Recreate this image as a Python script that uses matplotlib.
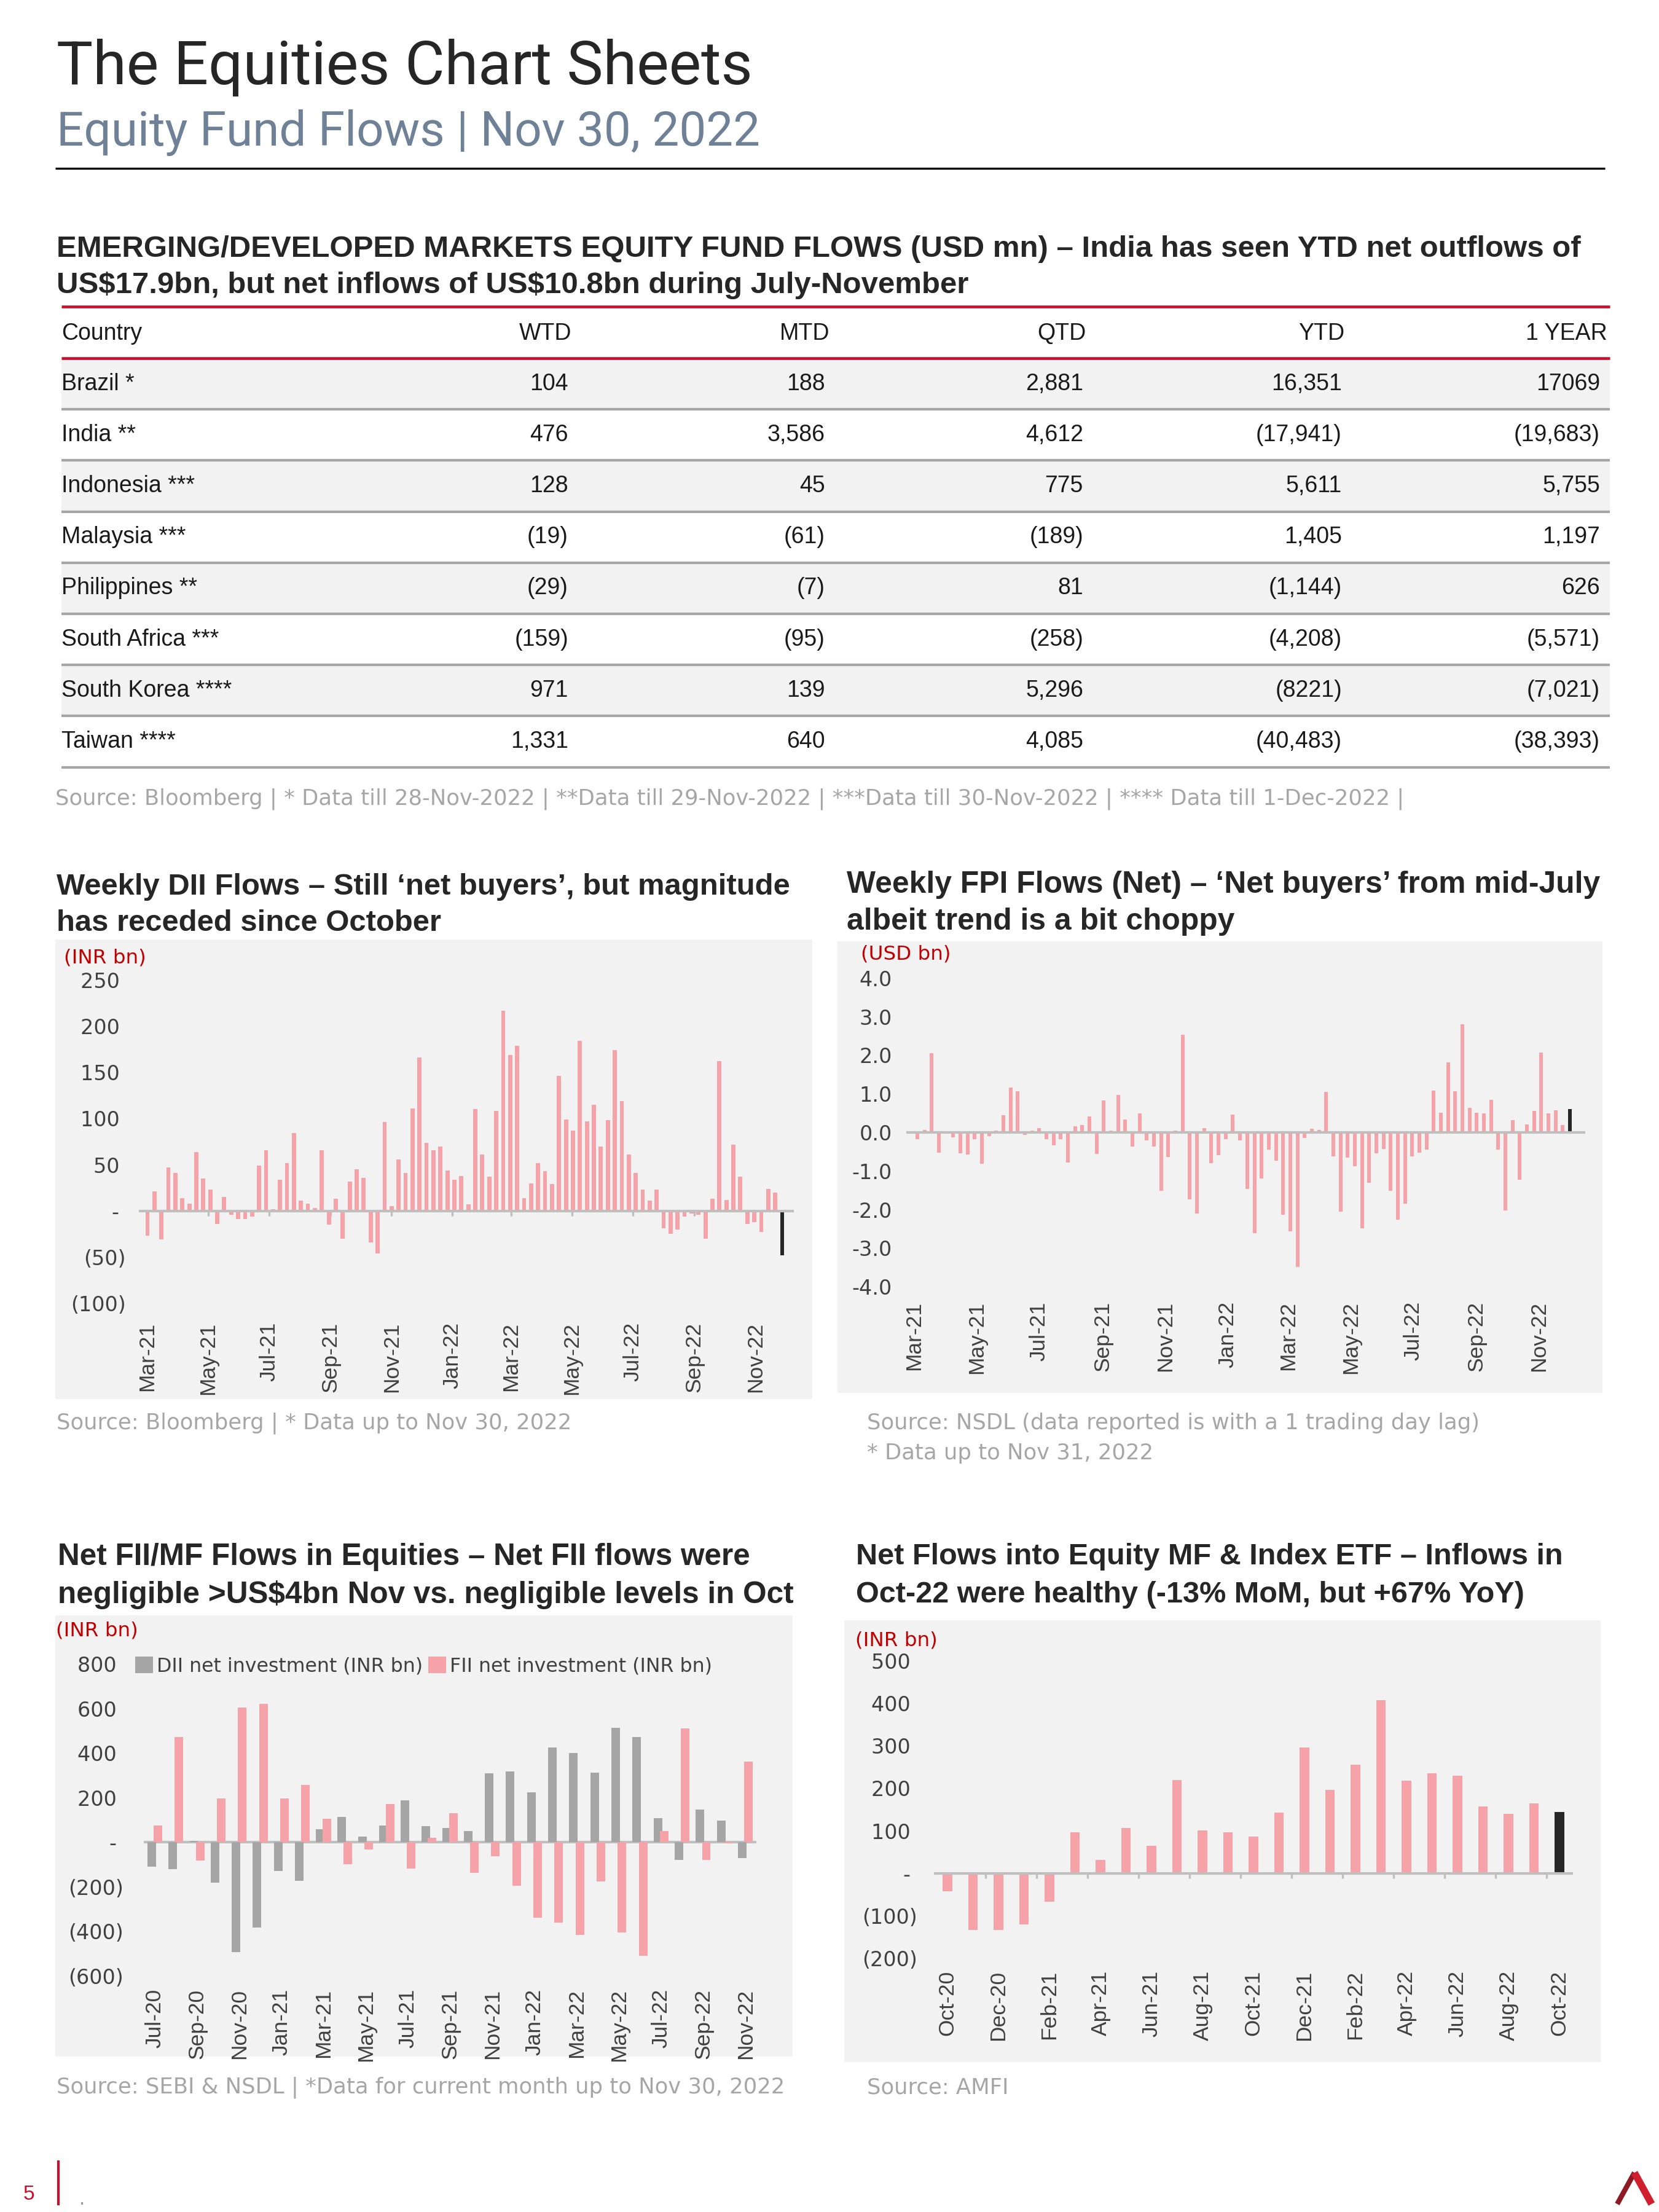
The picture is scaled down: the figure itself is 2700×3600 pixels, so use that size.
import matplotlib
matplotlib.use("Agg")
import matplotlib.pyplot as plt
import matplotlib.dates as mdates
import pandas as pd
from matplotlib.patches import Rectangle
from matplotlib.ticker import FuncFormatter, FixedLocator

W, H = 2700, 3600

# ---------------- table data ----------------
table_headers = ["WTD", "MTD", "QTD", "YTD", "1 YEAR"]
countries = ["Brazil *", "India **", "Indonesia ***", "Malaysia ***", "Philippines **",
             "South Africa ***", "South Korea ****", "Taiwan ****"]
wtd = ["104", "476", "128", "(19)", "(29)", "(159)", "971", "1,331"]
mtd = ["188", "3,586", "45", "(61)", "(7)", "(95)", "139", "640"]
qtd = ["2,881", "4,612", "775", "(189)", "81", "(258)", "5,296", "4,085"]
ytd = ["16,351", "(17,941)", "5,611", "1,405", "(1,144)", "(4,208)", "(8221)", "(40,483)"]
one_year = ["17069", "(19,683)", "5,755", "1,197", "626", "(5,571)", "(7,021)", "(38,393)"]

# ---------------- weekly DII flows (INR bn) ----------------
dii_start = "2021-03-01"
dii_weekly = [-27, 21, -31, 47, 41, 14, 8, 64, 35, 23, -14, 15, -4, -9, -9, -6, 49, 66, 2, 34,
              52, 84, 11, 8, 3, 66, -15, 13, -30, 32, 45, 36, -34, -46, 96, 5, 56, 41, 111, 166,
              74, 66, 70, 44, 34, 38, 7, 110, 61, 37, 108, 217, 169, 179, 14, 30, 52, 43, 29, 146,
              99, 87, 184, 97, 115, 70, 98, 174, 119, 61, 41, 23, 11, 23, -19, -25, -20, -6, -3, -4,
              -30, 13, 162, 12, 72, 37, -14, -12, -23, 24, 20, -48]

# ---------------- weekly FPI flows (USD bn) ----------------
fpi_start = "2021-03-04"
fpi_weekly = [-0.17, 0.07, 2.06, -0.52, -0.03, -0.13, -0.54, -0.57, -0.17, -0.82,
              -0.09, 0.04, 0.44, 1.16, 1.07, -0.06, 0.04, 0.11, -0.17, -0.34,
              -0.17, -0.78, 0.16, 0.19, 0.41, -0.56, 0.83, 0.05, 0.97, 0.33,
              -0.36, 0.50, -0.21, -0.36, -1.52, -0.64, 0.04, 2.54, -1.73, -2.11,
              0.11, -0.80, -0.59, -0.17, 0.47, -0.21, -1.46, -2.62,
              -1.20, -0.45, -0.73, -2.13, -2.57, -3.49, -0.15, 0.09, 0.07, 1.05,
              -0.62, -2.06, -0.66, -0.87, -2.48, -1.31, -0.54, -0.43, -1.52, -2.27,
              -1.85, -0.62, -0.52, -0.45, 1.09, 0.51, 1.82, 1.07, 2.80, 0.63,
              0.51, 0.49, 0.84, -0.45, -2.02, 0.32, -1.22, 0.21, 0.56, 2.07,
              0.49, 0.58, 0.19, 0.60]

# ---------------- monthly FII / DII (INR bn) ----------------
flows_start = "2020-07-01"
dii_monthly = [-109, -121, 7, -182, -493, -382, -129, -174, 58, 114, 25, 74, 188, 73, 64,
               50, 309, 317, 223, 425, 400, 312, 514, 471, 107, -79, 147, 98, -71]
fii_monthly = [74, 471, -83, 197, 605, 620, 197, 258, 106, -99, -33, 172, -117, 20, 131,
               -137, -63, -195, -339, -360, -415, -175, -405, -509, 50, 512, -79, -4, 362]

# ---------------- equity MF & index ETF flows (INR bn) ----------------
mf_start = "2020-10-01"
mf_flows = [-42, -134, -134, -121, -67, 96, 31, 106, 64, 219, 101, 96, 87, 143, 296, 196,
            255, 407, 218, 235, 229, 157, 140, 165, 144]

PINK = "#F5A3A8"
GREY = "#A5A5A5"
DARK = "#262626"
PANEL = "#F2F2F2"
RED = "#C8102E"
TXT = "#262626"
TICK = "#404040"
SRC = "#A6A6A6"
ZERO = "#BFBFBF"

plt.rcParams["font.family"] = ["DejaVu Sans"]
SANS = ["Liberation Sans", "DejaVu Sans"]
LIGHT = ["Roboto", "Lato", "DejaVu Sans"]

fig = plt.figure(figsize=(9, 12), dpi=300)
fig.patch.set_facecolor("white")
page = fig.add_axes([0, 0, 1, 1], zorder=0)
page.set_xlim(0, W)
page.set_ylim(H, 0)
page.axis("off")
renderer = fig.canvas.get_renderer()


def fit_text(x, y, s, width, size0, **kw):
    t = page.text(x, y, s, fontsize=size0, **kw)
    w = t.get_window_extent(renderer).width
    t.set_fontsize(size0 * width / w)
    return t


def px_axes(x0, y0, x1, y1):
    ax = fig.add_axes([x0 / W, 1 - y1 / H, (x1 - x0) / W, (y1 - y0) / H], zorder=2)
    ax.set_facecolor("none")
    for s in ax.spines.values():
        s.set_visible(False)
    return ax


def acct(v, p=None):
    if abs(v) < 1e-9:
        return "-\u2008"
    if v < 0:
        return "({:,.0f})".format(-v)
    return "{:,.0f}\u2008".format(v)


# ---------------- header ----------------
fit_text(92, 137, "The Equities Chart Sheets", 1133, 25, family=LIGHT, fontweight="normal",
         color=TXT, va="baseline")
fit_text(92, 237, "Equity Fund Flows | Nov 30, 2022", 1144, 19, family=LIGHT,
         fontweight="normal", color="#6E8197", va="baseline")
page.plot([90, 2612], [274, 274], color="black", lw=0.8, solid_capstyle="butt")

# ---------------- table ----------------
t1 = fit_text(92, 418, "EMERGING/DEVELOPED MARKETS EQUITY FUND FLOWS (USD mn) \u2013 India has seen YTD net outflows of",
              2482, 12, family=SANS, fontweight="bold", color=TXT, va="baseline")
page.text(92, 477, r"US\$17.9bn, but net inflows of US\$10.8bn during July-November",
          fontsize=t1.get_fontsize(), family=SANS, fontweight="bold", color=TXT, va="baseline")

tx0, tx1 = 100, 2620
row_top, row_h = 583, 83.2
head_right = [930, 1350, 1768, 2188, 2616]
num_right = [925, 1343, 1763, 2184, 2604]
tfont = dict(family=SANS, fontsize=9, color="#1A1A1A")
table_cols = [wtd, mtd, qtd, ytd, one_year]

page.text(tx0, 543, "Country", ha="left", va="center", **tfont)
for j, h in enumerate(table_headers):
    page.text(head_right[j], 543, h, ha="right", va="center", **tfont)

for i, name in enumerate(countries):
    y0 = row_top + i * row_h
    if i % 2 == 0:
        page.add_patch(Rectangle((tx0, y0), tx1 - tx0, row_h, fc=PANEL, ec="none"))
    page.text(tx0, y0 + row_h / 2, name, ha="left", va="center", **tfont)
    for j, col in enumerate(table_cols):
        page.text(num_right[j], y0 + row_h / 2, col[i], ha="right", va="center", **tfont)
    page.plot([tx0, tx1], [y0 + row_h] * 2, color="#A6A6A6", lw=1.0, solid_capstyle="butt")

page.plot([tx0, tx1], [499, 499], color=RED, lw=1.1, solid_capstyle="butt")
page.plot([tx0, tx1], [row_top, row_top], color=RED, lw=1.1, solid_capstyle="butt")
page.text(90, 1300, "Source: Bloomberg | * Data till 28-Nov-2022 | **Data till 29-Nov-2022 | "
          "***Data till 30-Nov-2022 | **** Data till 1-Dec-2022 |",
          fontsize=8.5, color=SRC, va="center")

# ---------------- panels ----------------
for (x0, y0, x1, y1) in [(90, 1529, 1322, 2277), (1363, 1532, 2608, 2267),
                         (90, 2629, 1290, 3347), (1374, 2637, 2605, 3356)]:
    page.add_patch(Rectangle((x0, y0), x1 - x0, y1 - y0, fc=PANEL, ec="none", zorder=0))


def chart_title(x, y1, y2, l1, l2, width):
    t = fit_text(x, y1, l1, width, 12, family=SANS, fontweight="bold", color=TXT, va="baseline")
    page.text(x, y2, l2, fontsize=t.get_fontsize(), family=SANS, fontweight="bold",
              color=TXT, va="baseline")


def unit_label(x, y, s):
    page.text(x, y, s, fontsize=7.8, color="#C00000", va="center", ha="left")


def style_y(ax, pad):
    ax.tick_params(axis="y", length=0, pad=pad, labelsize=8, labelcolor=TICK)


# ---------------- weekly DII ----------------
chart_title(92, 1456, 1515, "Weekly DII Flows \u2013 Still \u2018net buyers\u2019, but magnitude",
            "has receded since October", 1195)
unit_label(104, 1559, "(INR bn)")
ax = px_axes(228, 1595, 1290, 2121)
d = pd.date_range(dii_start, periods=len(dii_weekly), freq="7D")
dn = mdates.date2num(d)
ppd = (1273 - 240) / (dn[-1] - dn[0])
cols = [PINK] * (len(dii_weekly) - 1) + [DARK]
ax.bar(dn, dii_weekly, width=4.2, color=cols, zorder=2)
ax.set_xlim(dn[0] - (240 - 228) / ppd, dn[-1] + (1290 - 1273) / ppd)
ax.set_ylim(-100, 250)
ax.set_yticks(range(-100, 251, 50))
ax.yaxis.set_major_formatter(FuncFormatter(acct))
style_y(ax, 5.5)
ax.spines["bottom"].set_visible(True)
ax.spines["bottom"].set_position(("data", 0))
ax.spines["bottom"].set_color(ZERO)
ax.spines["bottom"].set_linewidth(1.0)
ax.spines["bottom"].set_zorder(3)
ax.xaxis.set_major_locator(mdates.MonthLocator(bymonth=[1, 3, 5, 7, 9, 11]))
ax.xaxis.set_major_formatter(mdates.DateFormatter("%b-%y"))
ax.tick_params(axis="x", direction="out", length=2, width=0.8, color=ZERO, pad=41.5,
               labelsize=8.5, labelcolor=TICK, labelrotation=90)
for lab in ax.get_xticklabels():
    lab.set_family(SANS)
page.text(92, 2316, "Source: Bloomberg | * Data up to Nov 30, 2022", fontsize=8.5, color=SRC,
          va="center")

# ---------------- weekly FPI ----------------
chart_title(1378, 1453, 1513, "Weekly FPI Flows (Net) \u2013 \u2018Net buyers\u2019 from mid-July",
            "albeit trend is a bit choppy", 1226)
unit_label(1401, 1553, "(USD bn)")
ax = px_axes(1475, 1592, 2580, 2094)
d = pd.date_range(fpi_start, periods=len(fpi_weekly), freq="7D")
dn = mdates.date2num(d)
ppd = (2555 - 1493) / (dn[-1] - dn[0])
cols = [PINK] * (len(fpi_weekly) - 1) + [DARK]
ax.axhline(0, color=ZERO, lw=1.0, zorder=3)
ax.bar(dn, fpi_weekly, width=3.6, color=cols, zorder=2)
ax.set_xlim(dn[0] - (1493 - 1475) / ppd, dn[-1] + (2580 - 2555) / ppd)
ax.set_ylim(-4, 4)
ax.set_yticks(range(-4, 5))
ax.yaxis.set_major_formatter(FuncFormatter(lambda v, p: "{:.1f}".format(v)))
style_y(ax, 5.5)
ax.xaxis.set_major_locator(mdates.MonthLocator(bymonth=[1, 3, 5, 7, 9, 11]))
ax.xaxis.set_major_formatter(mdates.DateFormatter("%b-%y"))
ax.tick_params(axis="x", length=0, pad=5.8, labelsize=8.5, labelcolor=TICK, labelrotation=90)
for lab in ax.get_xticklabels():
    lab.set_family(SANS)
page.text(1411, 2316, "Source: NSDL (data reported is with a 1 trading day lag)", fontsize=8.5,
          color=SRC, va="center")
page.text(1411, 2365, "* Data up to Nov 31, 2022", fontsize=8.5, color=SRC, va="center")

# ---------------- monthly FII / DII ----------------
chart_title(94, 2547, 2609, "Net FII/MF Flows in Equities \u2013 Net FII flows were",
            "negligible >US$4bn Nov vs. negligible levels in Oct", 1130)
unit_label(91, 2654, "(INR bn)")
ax = px_axes(234, 2708, 1231, 3216)
months = pd.date_range(flows_start, periods=len(dii_monthly), freq="MS").strftime("%b-%y")
idx = list(range(len(months)))
ax.axhline(0, color=ZERO, lw=1.0, zorder=1)
ax.bar([i - 0.15 for i in idx], dii_monthly, width=0.4, color=GREY, zorder=2,
       label="DII net investment (INR bn)")
ax.bar([i + 0.15 for i in idx], fii_monthly, width=0.4, color=PINK, zorder=3,
       label="FII net investment (INR bn)")
ax.set_xlim(-0.52, len(idx) - 1 + 0.52)
ax.set_ylim(-600, 800)
ax.set_yticks(range(-600, 801, 200))
ax.yaxis.set_major_formatter(FuncFormatter(acct))
style_y(ax, 8)
ax.set_xticks(idx[::2])
ax.set_xticklabels(months[::2], family=SANS)
ax.tick_params(axis="x", length=0, pad=5, labelsize=8.5, labelcolor=TICK, labelrotation=90)
leg = ax.legend(loc="center left", bbox_to_anchor=(220 / W, 1 - 2712 / H),
                bbox_transform=fig.transFigure, ncol=2, frameon=False,
                prop={"family": "DejaVu Sans", "size": 7.6}, handlelength=0.9,
                handleheight=0.9, handletextpad=0.2, columnspacing=0.3, borderpad=0,
                borderaxespad=0)
for t in leg.get_texts():
    t.set_color(TICK)
page.text(92, 3397, "Source: SEBI & NSDL | *Data for current month up to Nov 30, 2022",
          fontsize=8.5, color=SRC, va="center")

# ---------------- equity MF & index ETF ----------------
chart_title(1393, 2546, 2608, "Net Flows into Equity MF & Index ETF \u2013 Inflows in",
            "Oct-22 were healthy (-13% MoM, but +67% YoY)", 1152)
unit_label(1392, 2670, "(INR bn)")
ax = px_axes(1522, 2703, 2558, 3187)
mf_months = pd.date_range(mf_start, periods=len(mf_flows), freq="MS").strftime("%b-%y")
midx = list(range(len(mf_months)))
cols = [PINK] * (len(mf_flows) - 1) + [DARK]
ax.bar(midx, mf_flows, width=0.38, color=cols, zorder=2)
ax.set_xlim(-0.48, len(midx) - 1 + 0.48)
ax.set_ylim(-200, 500)
ax.set_yticks(range(-200, 501, 100))
ax.yaxis.set_major_formatter(FuncFormatter(acct))
style_y(ax, 7)
ax.spines["bottom"].set_visible(True)
ax.spines["bottom"].set_position(("data", 0))
ax.spines["bottom"].set_color(ZERO)
ax.spines["bottom"].set_linewidth(1.0)
ax.set_xticks(midx[::2])
ax.set_xticklabels(mf_months[::2], family=SANS)
ax.xaxis.set_minor_locator(FixedLocator([i - 0.5 for i in midx[::2]]))
ax.tick_params(axis="x", which="major", length=0, pad=38, labelsize=8.5, labelcolor=TICK,
               labelrotation=90)
ax.tick_params(axis="x", which="minor", direction="out", length=2, width=0.8, color=ZERO)
page.text(1411, 3397, "Source: AMFI", fontsize=8.5, color=SRC, va="center")

# ---------------- footer ----------------
page.text(47, 3572, "5", fontsize=8, color=RED, family=SANS, ha="center", va="center")
page.plot([95, 95], [3518, 3587], color=RED, lw=1.0)
page.text(134, 3580, ".", fontsize=7, color="#999999", ha="center", va="center")
page.plot([2632, 2660], [3587, 3536], color="#8E1B24", lw=2.0, solid_capstyle="butt")
page.plot([2660, 2688], [3536, 3587], color="#D0202E", lw=2.8, solid_capstyle="butt")

fig.savefig("out.png", dpi=300)
